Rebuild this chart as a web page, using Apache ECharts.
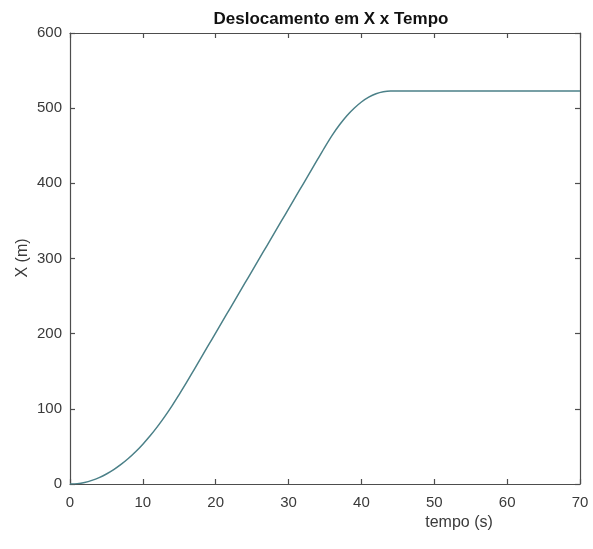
<!DOCTYPE html>
<html>
<head>
<meta charset="utf-8">
<script src="https://cdn.jsdelivr.net/npm/echarts@6/dist/echarts.min.js"></script>
<style>html,body{margin:0;padding:0;background:#fff}#c{width:593px;height:549px}</style>
</head>
<body>
<div id="c"></div>
<script>
const titleText = 'Deslocamento em X x Tempo';
const xName = 'tempo (s)';
const yName = 'X (m)';
const tempo = [0,1,2,3,4,5,6,7,8,9,10,11,12,13,14,15,16,17,18,19,20,21,22,23,24,25,26,27,28,29,30,31,32,33,34,35,36,37,38,39,40,41,42,43,44,70];
const deslocamento = [0,0.5,2.1,4.8,8.5,13.3,19.1,26.0,33.9,42.9,53.0,64.1,76.3,89.6,103.9,119.3,135.1,151.6,168.1,184.6,201.1,217.6,234.1,250.6,267.1,283.6,300.1,316.6,333.1,349.6,366.1,382.6,399.1,415.6,432.1,448.6,464.2,477.9,489.9,499.9,508.2,514.6,519.2,521.9,522.9,522.9];
const xTicks = [0,10,20,30,40,50,60,70];
const yTicks = [0,100,200,300,400,500,600];

const data = tempo.map((t,i)=>[t, deslocamento[i]]);
const chart = echarts.init(document.getElementById('c'), null, {renderer:'canvas'});
const axisCol = '#4d4d4d';
const labCol = '#3a3a3a';
const font = 'Liberation Sans, Arial, sans-serif';
const common = {
  axisLine:{show:true, onZero:false, lineStyle:{color:axisCol, width:1.2}},
  axisTick:{show:true, inside:true, length:5, lineStyle:{color:axisCol, width:1.2}},
  splitLine:{show:false}
};
chart.setOption({
  animation:false,
  backgroundColor:'#fff',
  title:{text:titleText, left:326, top:6, textAlign:'center',
    textStyle:{fontFamily:font, fontSize:17, fontWeight:'bold', color:'#111'}},
  grid:{left:70, right:13, top:33, bottom:65},
  xAxis:[
    Object.assign({type:'value', position:'bottom', min:0, max:70, interval:10,
      axisLabel:{color:labCol, fontFamily:font, fontSize:15, margin:11, formatter:v=>xTicks.includes(v)?String(v):''}}, common),
    Object.assign({type:'value', position:'top', min:0, max:70, interval:10,
      axisLabel:{show:false}}, common)
  ],
  yAxis:[
    Object.assign({type:'value', position:'left', min:0, max:600, interval:100,
      axisLabel:{color:labCol, fontFamily:font, fontSize:15, margin:8, formatter:v=>yTicks.includes(v)?String(v):''}}, common),
    Object.assign({type:'value', position:'right', min:0, max:600, interval:100,
      axisLabel:{show:false}}, common)
  ],
  graphic:[
    {type:'text', x:459, y:523, style:{text:xName, fill:labCol, font:'16px '+font, align:'center', verticalAlign:'middle'}},
    {type:'text', rotation:Math.PI/2, x:23, y:258, style:{text:yName, fill:labCol, font:'16px '+font, align:'center', verticalAlign:'middle'}}
  ],
  series:[{
    type:'line', xAxisIndex:0, yAxisIndex:0, data:data, smooth:0.3, showSymbol:false,
    lineStyle:{color:'#4b8088', width:1.5}
  }]
});
</script>
</body>
</html>
